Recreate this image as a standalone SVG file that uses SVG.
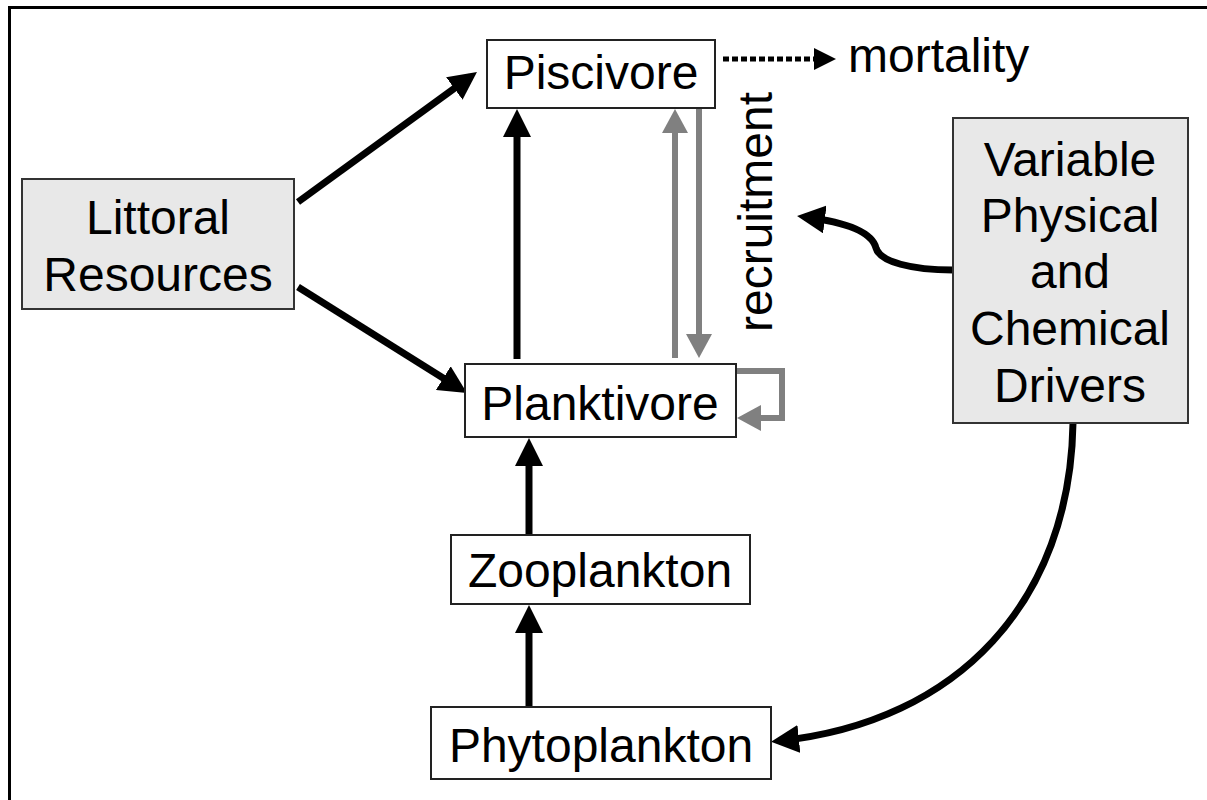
<svg xmlns="http://www.w3.org/2000/svg" width="1207" height="800" viewBox="0 0 1207 800">
<style>
.box{fill:#fff;stroke:#222;stroke-width:2}
.gbox{fill:#e8e8e8;stroke:#333;stroke-width:2}
.t{font-family:"Liberation Sans",Arial,sans-serif;font-size:48px;fill:#000;text-anchor:middle}
.blk{stroke:#000;stroke-width:7;fill:none}
.gry{stroke:#808080;stroke-width:6;fill:none}
</style>
<defs>
<marker id="ab" markerUnits="userSpaceOnUse" viewBox="0 0 28 28" markerWidth="28" markerHeight="28" refX="20" refY="14" orient="auto"><path d="M0,0 L28,14 L0,28 z" fill="#000"/></marker>
<marker id="ag" markerUnits="userSpaceOnUse" viewBox="0 0 24 26" markerWidth="24" markerHeight="26" refX="17" refY="13" orient="auto"><path d="M0,0 L24,13 L0,26 z" fill="#808080"/></marker>
<marker id="am" markerUnits="userSpaceOnUse" viewBox="0 0 22 22" markerWidth="22" markerHeight="22" refX="2" refY="11" orient="auto"><path d="M0,0 L22,11 L0,22 z" fill="#000"/></marker>
</defs>
<rect x="9.5" y="7.5" width="1300" height="900" fill="none" stroke="#000" stroke-width="3"/>
<g id="connectors">
<line class="blk" x1="298" y1="202" x2="470.5" y2="76.7" marker-end="url(#ab)"/>
<line class="blk" x1="298" y1="287" x2="460.2" y2="388.8" marker-end="url(#ab)"/>
<line class="blk" x1="517" y1="359" x2="517" y2="117" marker-end="url(#ab)"/>
<line class="blk" x1="529" y1="535" x2="529" y2="446" marker-end="url(#ab)"/>
<line class="blk" x1="529" y1="707" x2="529" y2="613" marker-end="url(#ab)"/>
<line class="gry" x1="675" y1="358" x2="675" y2="116" marker-end="url(#ag)"/>
<line class="gry" x1="699" y1="108" x2="699" y2="351" marker-end="url(#ag)"/>
<path class="gry" d="M737,371 H782 V418 H744" marker-end="url(#ag)"/>
<line x1="723" y1="59" x2="816" y2="59" stroke="#000" stroke-width="5" stroke-dasharray="6 3" marker-end="url(#am)"/>
<path class="blk" d="M953,270 C912,270 880,262 876,248 C872,232 845,222 805,217" marker-end="url(#ab)"/>
<path class="blk" d="M1073,423 C1070,600 960,722 779,741" marker-end="url(#ab)"/>
</g>
<g id="piscivore"><rect class="box" x="487" y="40" width="228" height="68"/><text class="t" x="601" y="89">Piscivore</text></g>
<g id="planktivore"><rect class="box" x="465" y="364" width="271" height="73"/><text class="t" x="600" y="420">Planktivore</text></g>
<g id="zooplankton"><rect class="box" x="451" y="535" width="299" height="69"/><text class="t" x="600" y="587">Zooplankton</text></g>
<g id="phytoplankton"><rect class="box" x="431" y="707" width="340" height="72"/><text class="t" x="601" y="762">Phytoplankton</text></g>
<g id="littoral"><rect class="gbox" x="22" y="179" width="272" height="130"/><text class="t" x="158" y="234">Littoral</text><text class="t" x="158" y="291">Resources</text></g>
<g id="drivers"><rect class="gbox" x="953" y="118" width="235" height="305"/>
<text class="t" x="1070" y="176">Variable</text>
<text class="t" x="1070" y="232">Physical</text>
<text class="t" x="1070" y="288">and</text>
<text class="t" x="1070" y="345">Chemical</text>
<text class="t" x="1070" y="402">Drivers</text></g>
<g id="mortality"><text class="t" x="848" y="72" style="text-anchor:start">mortality</text></g>
<g id="recruitment"><text class="t" transform="translate(772,212) rotate(-90)">recruitment</text></g>
</svg>
